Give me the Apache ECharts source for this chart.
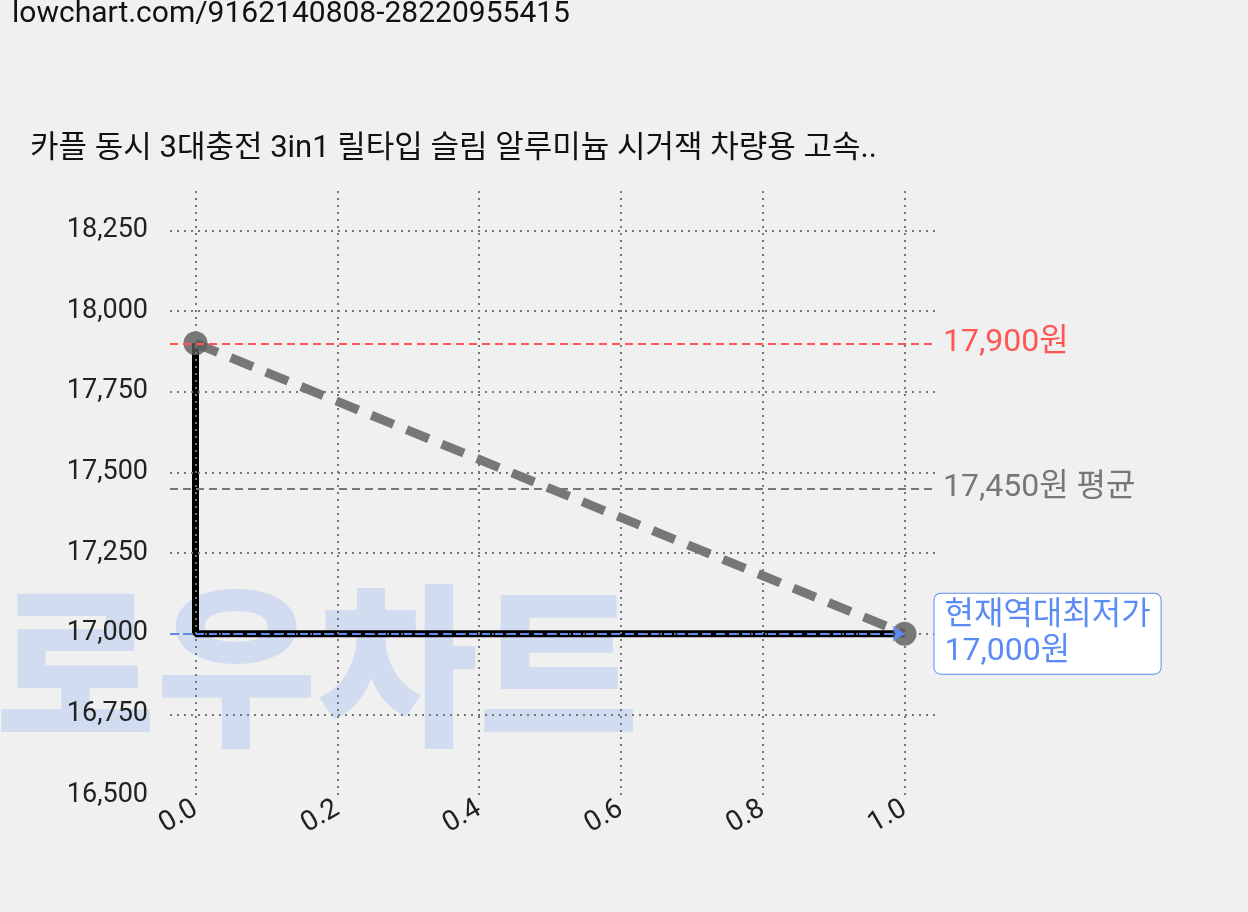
<!DOCTYPE html>
<html><head><meta charset="utf-8">
<script src="https://cdn.jsdelivr.net/npm/echarts@6/dist/echarts.min.js"></script>
<style>html,body{margin:0;background:#f0f0f0}#c{width:1248px;height:912px}</style>
</head><body><div id="c"></div>
<script>
const xTicks=[0,0.2,0.4,0.6,0.8,1.0];
const yTicks=[16500,16750,17000,17250,17500,17750,18000,18250];
const stepX=[0,0,1];
const stepY=[17900,17000,17000];
const trendX=[0,1];
const trendY=[17900,17000];
const maxPrice=17900, avgPrice=17450, minPrice=17000;
const titleText='카플 동시 3대충전 3in1 릴타입 슬림 알루미늄 시거잭 차량용 고속..';
const urlText='lowchart.com/9162140808-28220955415';
const f='Roboto, "Noto Sans CJK KR", sans-serif';
const gridLS={type:[2,5],color:'#777',width:2};
const chart=echarts.init(document.getElementById('c'));
chart.setOption({
backgroundColor:'#f0f0f0',
graphic:[
{type:'text',left:12,top:0,style:{text:urlText,font:'30px '+f,fill:'#111'}},
{type:'text',left:30,top:134,style:{text:titleText,font:'31px '+f,fill:'#111'}},
{type:'text',left:-5,top:578,z:-1,style:{text:'로우차트',font:'900 175px "Noto Sans CJK KR"',fill:'rgba(170,195,240,0.45)'}}
],
grid:{left:170,right:313,top:190,bottom:117},
xAxis:{type:'value',min:-0.036,max:1.043,
 axisLine:{show:false},axisTick:{show:false},splitLine:{show:false},
 axisLabel:{customValues:xTicks,formatter:v=>v.toFixed(1),rotate:30,fontSize:28,color:'#222',fontFamily:f,margin:12}},
yAxis:{type:'value',min:16500,max:18375,
 axisLine:{show:false},axisTick:{show:false},splitLine:{show:false},
 axisLabel:{customValues:yTicks,formatter:v=>v.toLocaleString('en-US'),fontSize:27,color:'#222',fontFamily:f,margin:22}},
series:[
{type:'line',data:[],markLine:{silent:true,symbol:'none',label:{show:false},lineStyle:gridLS,
 data:[...xTicks.map(v=>({xAxis:v})),...yTicks.filter(v=>v>16500).map(v=>({yAxis:v}))]}},
{type:'line',data:stepX.map((x,i)=>[x,stepY[i]]),symbol:'none',lineStyle:{color:'#000',width:7},z:3},
{type:'line',data:trendX.map((x,i)=>[x,trendY[i]]),symbol:'circle',symbolSize:24,
 itemStyle:{color:'rgba(90,90,90,0.8)'},lineStyle:{color:'#777',width:9,type:[24,14]},z:4,
 markLine:{silent:true,symbol:'none',
  data:[
  {yAxis:maxPrice,lineStyle:{color:'#f55',type:[8,5],width:2},label:{formatter:'17,900원',color:'#f55',fontSize:32,fontFamily:f,position:'end',distance:8}},
  {yAxis:avgPrice,lineStyle:{color:'#777',type:[8,5],width:2},label:{formatter:'17,450원 평균',color:'#777',fontSize:32,fontFamily:f,position:'end',distance:8}},
  [{coord:[-0.036,minPrice],symbol:'none',lineStyle:{color:'#5b8cf5',type:[8,5],width:2}},{coord:[1.0,minPrice],symbol:'arrow',symbolSize:12,
   label:{formatter:'현재역대최저가\n17,000원',color:'#5b8cf5',fontSize:32,lineHeight:36,fontFamily:f,position:'end',distance:30,
   backgroundColor:'#fff',borderColor:'#5b8cf5',borderWidth:1,borderRadius:6,padding:[4,10,4,10],align:'left'}}]
  ]}}
]});
</script></body></html>
